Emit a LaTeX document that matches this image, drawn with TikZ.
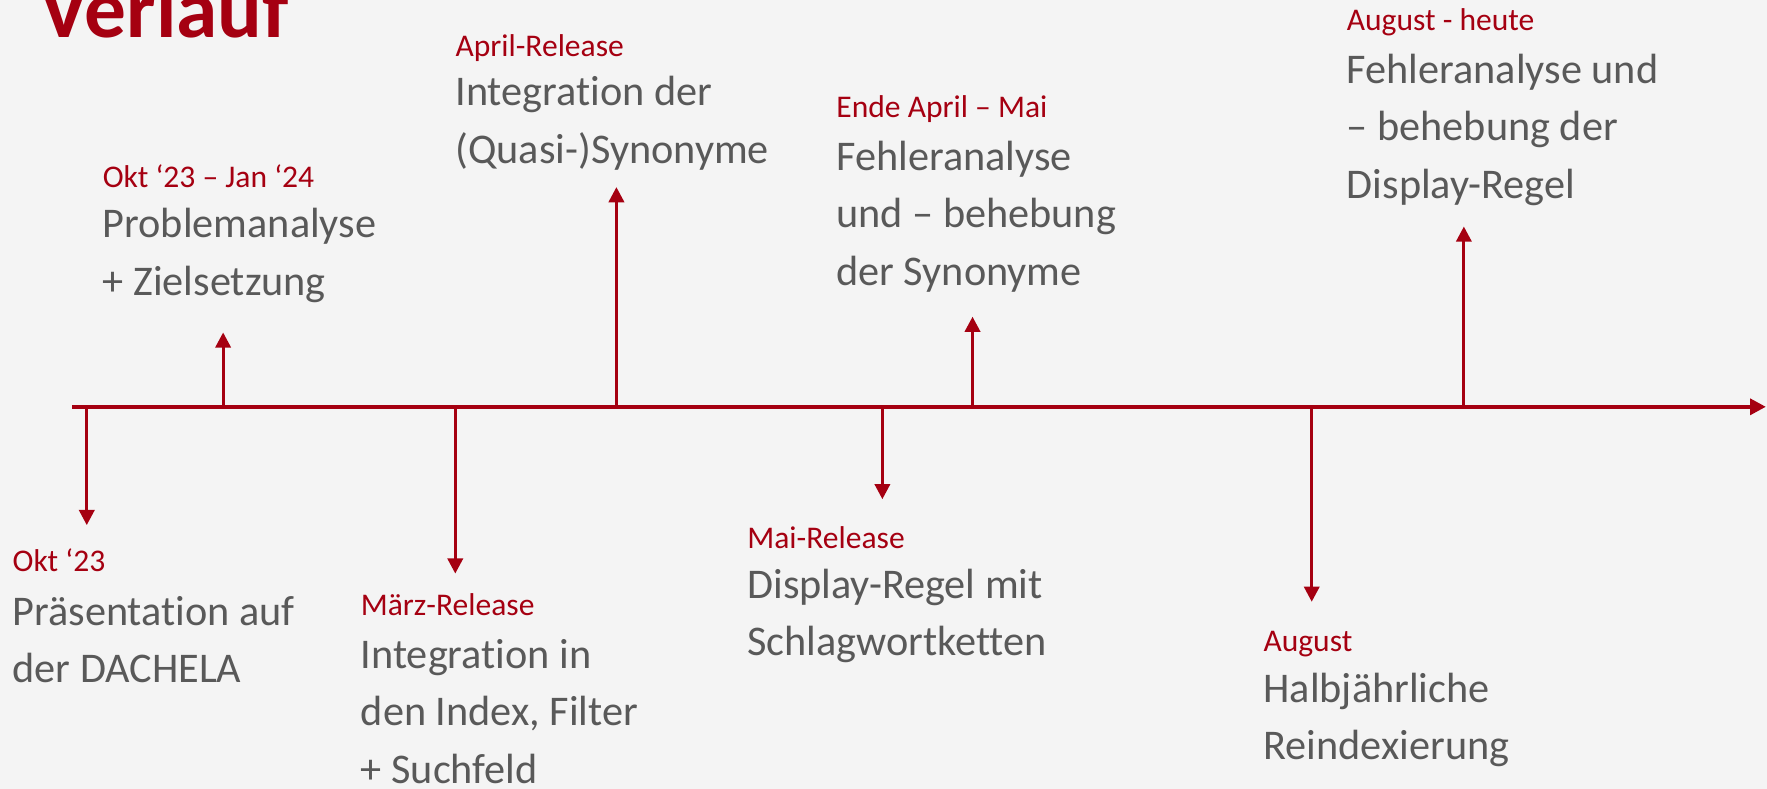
\documentclass[tikz,border=0pt]{standalone}
\usepackage{fontspec}
\setmainfont[Ligatures={TeX,NoCommon}]{Carlito}
\usetikzlibrary{arrows.meta}
\definecolor{dred}{HTML}{A50011}
\definecolor{tgray}{HTML}{595959}
\definecolor{bg}{HTML}{F4F4F4}
\tikzset{
  lab/.style={anchor=base west, inner sep=0pt, text=dred, font=\fontsize{28}{30}\selectfont},
  txt/.style={anchor=base west, inner sep=0pt, text=tgray, font=\fontsize{37.5}{45}\selectfont},
  ax/.style={draw=dred, line width=3.3pt, -{Triangle[width=14pt,length=14pt]}},
  tick/.style={draw=dred, line width=2.8pt, -{Triangle[width=13.5pt,length=13.5pt]}},
}
\begin{document}
\begin{tikzpicture}[x=1pt,y=-1pt]
\useasboundingbox (0,0) rectangle (1568,700);
\clip (0,0) rectangle (1568,700);
\fill[bg] (0,0) rectangle (1568,700);
% title
\node[anchor=base west, inner sep=0pt, text=dred, font=\fontsize{74}{80}\selectfont\bfseries] (title) at (35,33) {Verlauf};
% axis
\coordinate (s) at (64,361);
\coordinate (e) at (1567,361);
\draw[ax] (s) -- (e);
% ticks
\coordinate (a1) at (77,361);   \coordinate (t1) at (77,466);
\coordinate (a2) at (198,361);  \coordinate (t2) at (198,295);
\coordinate (a3) at (404,361);  \coordinate (t3) at (404,509);
\coordinate (a4) at (547,361);  \coordinate (t4) at (547,166);
\coordinate (a5) at (783,361);  \coordinate (t5) at (783,443);
\coordinate (a6) at (863,361);  \coordinate (t6) at (863,281);
\coordinate (a7) at (1164,361); \coordinate (t7) at (1164,534);
\coordinate (a8) at (1299,361); \coordinate (t8) at (1299,201);
\foreach \i in {1,...,8} { \draw[tick] (a\i) -- (t\i); }
% 1
\node[lab] (l1) at (11,507) {Okt ‘23};
\node[txt] (m1a) at (11,555) {Präsentation auf};
\node[txt] (m1b) at (11,606) {der DACHELA};
% 2
\node[lab] (l2) at (91,166) {Okt ‘23 – Jan ‘24};
\node[txt] (m2a) at (91,211) {Problemanalyse};
\node[txt] (m2b) at (91,262) {+ Zielsetzung};
% 3
\node[lab] (l3) at (320,546) {März-Release};
\node[txt] (m3a) at (320,593) {Integration in};
\node[txt] (m3b) at (320,644) {den Index, Filter};
\node[txt] (m3c) at (320,695) {+ Suchfeld};
% 4
\node[lab] (l4) at (404,50) {April-Release};
\node[txt] (m4a) at (404,94) {Integration der};
\node[txt] (m4b) at (404,145) {(Quasi-)Synonyme};
% 5
\node[lab] (l5) at (663,487) {Mai-Release};
\node[txt] (m5a) at (663,531) {Display-Regel mit};
\node[txt] (m5b) at (663,582) {Schlagwortketten};
% 6
\node[lab] (l6) at (742,104) {Ende April – Mai};
\node[txt] (m6a) at (742,151) {Fehleranalyse};
\node[txt] (m6b) at (742,202) {und – behebung};
\node[txt] (m6c) at (742,253) {der Synonyme};
% 7
\node[lab] (l7) at (1121,578) {August};
\node[txt] (m7a) at (1121,623) {Halbjährliche};
\node[txt] (m7b) at (1121,674) {Reindexierung};
% 8
\node[lab] (l8) at (1195,27) {August - heute};
\node[txt] (m8a) at (1195,74) {Fehleranalyse und};
\node[txt] (m8b) at (1195,125) {– behebung der};
\node[txt] (m8c) at (1195,176) {Display-Regel};
\end{tikzpicture}
\end{document}
